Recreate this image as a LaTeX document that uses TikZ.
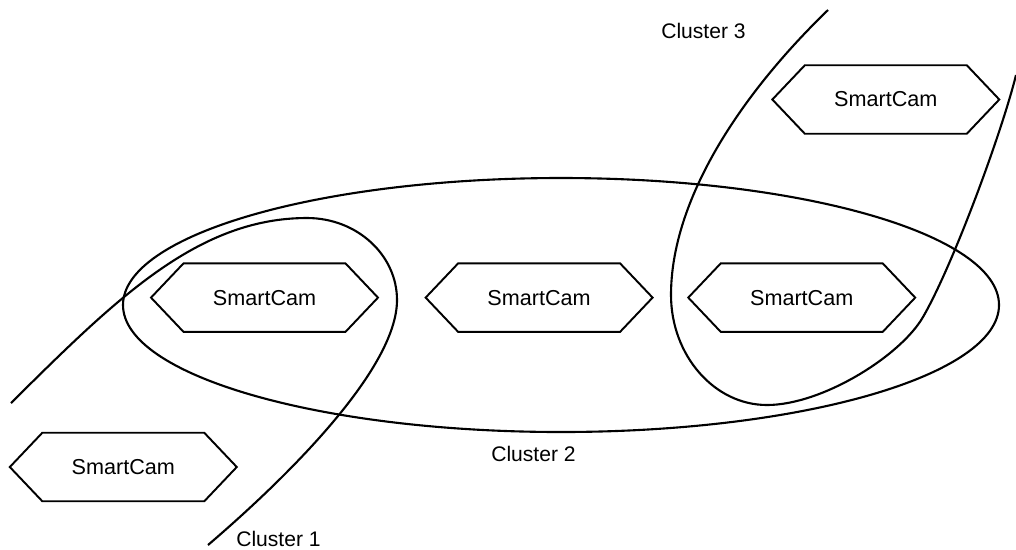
\documentclass[tikz,border=0pt]{standalone}
\usepackage{fontspec}
\setmainfont{Liberation Sans}
\usepackage{tikz}
\usetikzlibrary{shapes.symbols,positioning}

\begin{document}
\begin{tikzpicture}[x=0.02cm,y=-0.02cm,
    cam/.style={draw,line width=1.1pt,signal,signal to=east and west,
      signal pointer angle=93,minimum width=4.54cm,minimum height=1.37cm,
      inner sep=0pt,font=\fontsize{12.3}{14}\selectfont},
    cluster/.style={line width=1.2pt},
    tag/.style={inner sep=1pt,font=\fontsize{12}{14}\selectfont}]
  \def\cam{SmartCam}
  \useasboundingbox (0,0) rectangle (1016,549);
  % 摄像头节点
  \node[cam] (cam1) at (123.3,467) {\cam};
  \node[cam] (cam2) at (264.5,297.6) {\cam};
  \node[cam,right=0.90cm of cam2] (cam3) {\cam};
  \node[cam,right=0.66cm of cam3] (cam4) {\cam};
  \node[cam] (cam5) at (885.8,99.5) {\cam};
  % 第二簇：大椭圆
  \draw[cluster] (561,305) ellipse [x radius=438,y radius=127];
  % 第一簇：左下开口的曲线
  \draw[cluster] (11,403) .. controls (115,300) and (197,218) .. (307,218)
    .. controls (357,218) and (397,255) .. (397,300)
    .. controls (397,370) and (284,480) .. (208,545);
  % 第三簇：右上开口的曲线
  \draw[cluster] (828,10) .. controls (740,95) and (671,200) .. (671,295)
    .. controls (671,355) and (714,405) .. (767,405)
    .. controls (822,405) and (900.5,356) .. (923,317)
    .. controls (953,265) and (1001.6,133) .. (1016,75);
  % 簇的标注
  \node[tag] (lab1) at (278.5,539) {Cluster 1};
  \node[tag] (lab2) at (533.5,454) {Cluster 2};
  \node[tag] (lab3) at (703.5,30.5) {Cluster 3};
\end{tikzpicture}
\end{document}
